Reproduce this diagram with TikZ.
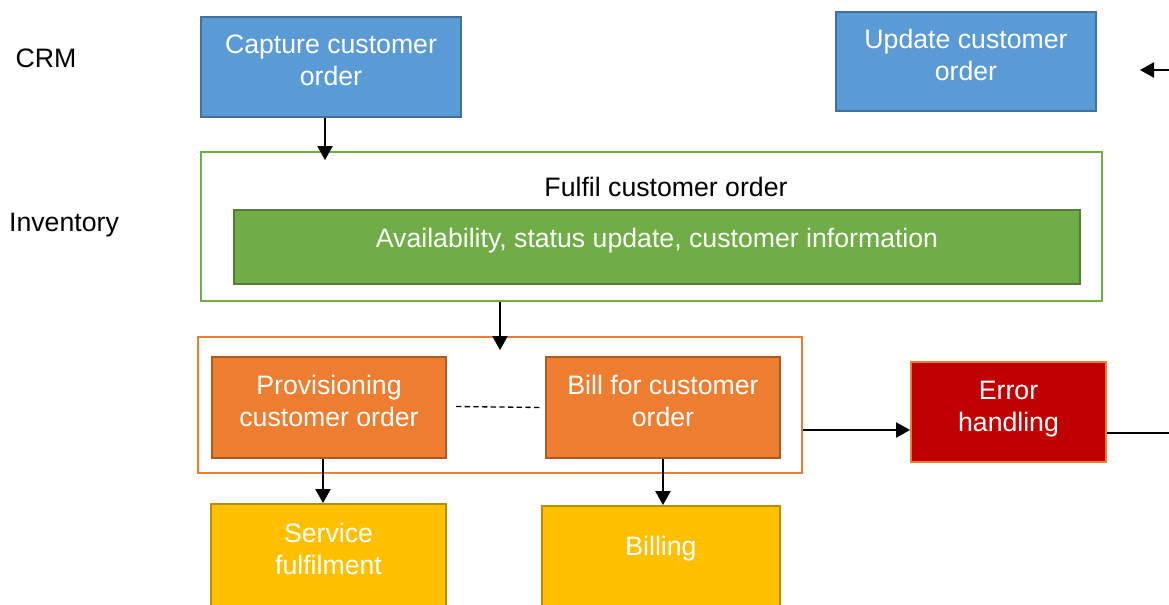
\documentclass[tikz,border=0pt]{standalone}
\usepackage{fontspec}
\setmainfont{Liberation Sans}
\usetikzlibrary{arrows.meta,calc}
\definecolor{crmfill}{HTML}{5B9BD5}
\definecolor{crmline}{HTML}{41719C}
\definecolor{invfill}{HTML}{70AD47}
\definecolor{invline}{HTML}{507E32}
\definecolor{ordfill}{HTML}{ED7D31}
\definecolor{ordline}{HTML}{AE5A21}
\definecolor{sysfill}{HTML}{FFC000}
\definecolor{sysline}{HTML}{BC8C00}
\definecolor{errfill}{HTML}{C00000}
\begin{document}
\begin{tikzpicture}[x=0.75pt,y=-0.75pt,
  font=\fontsize{20}{24}\selectfont,
  box/.style={draw, line width=1.5pt, inner sep=0pt},
  crmbox/.style={box, fill=crmfill, draw=crmline},
  invbox/.style={box, fill=invfill, draw=invline},
  ordbox/.style={box, fill=ordfill, draw=ordline},
  sysbox/.style={box, fill=sysfill, draw=sysline},
  errbox/.style={box, fill=errfill, draw=ordfill},
  frame/.style={draw, line width=1.5pt, inner sep=0pt},
  txt/.style={text=white, align=center, inner sep=0pt},
  lane/.style={text=black, inner sep=0pt},
  arr/.style={line width=1pt, -{Triangle[length=10.5pt,width=11.5pt]}},
  link/.style={line width=1pt},
]
\useasboundingbox (0,0) rectangle (1169,604);

% lane titles
\node[lane] (crm) at (46,58) {CRM};
\node[lane] (inv) at (64,225) {Inventory};

% CRM processes
\node[crmbox, minimum width=195pt, minimum height=75pt,
  label={[txt,yshift=5.25pt]center:{Capture customer\\order}}] (capture) at (331,67) {};
\node[crmbox, minimum width=195pt, minimum height=74.25pt,
  label={[txt,yshift=4.9pt]center:{Update customer\\order}}] (update) at (966,61.5) {};

% inventory stage
\node[frame, draw=invfill, minimum width=675.75pt, minimum height=111.75pt] (fulfil) at (651.5,226.5) {};
\node[lane] (fulfiltitle) at (666,187) {Fulfil customer order};
\node[invbox, minimum width=634.5pt, minimum height=55.5pt,
  label={[txt,yshift=5pt]center:{Availability, status update, customer information}}] (avail) at (657,247) {};

% order handling stage
\node[frame, draw=ordfill, minimum width=453pt, minimum height=102pt] (orders) at (500,405) {};
\node[ordbox, minimum width=175.5pt, minimum height=75.75pt,
  label={[txt,yshift=4.6pt]center:{Provisioning\\customer order}}] (prov) at (329,407.5) {};
\node[ordbox, minimum width=175.5pt, minimum height=75.75pt,
  label={[txt,yshift=4.6pt]center:{Bill for customer\\order}}] (bill) at (663,407.5) {};

% downstream systems
\node[sysbox, minimum width=176.25pt, minimum height=78pt,
  label={[txt,yshift=5.6pt]center:{Service\\fulfilment}}] (service) at (328.5,556) {};
\node[sysbox, minimum width=178.5pt, minimum height=78pt,
  label={[txt,yshift=7pt]center:{Billing}}] (billing) at (661,558) {};

% error path
\node[errbox, minimum width=146.25pt, minimum height=75pt,
  label={[txt,yshift=2.4pt]center:{Error\\handling}}] (error) at (1008.5,412) {};

% loose ends at the right margin
\coordinate (errout) at (1169,433);
\coordinate (updin) at (1169,70);
\coordinate (updtip) at (1140,70);

% connectors
\draw[arr] ($(capture.south)+(-6,0)$) -- ($(capture.south |- fulfil.north)+(-6,9)$);
\draw[arr] (fulfil.south -| orders.north) -- ($(orders.north)+(0,14)$);
\draw[arr] ($(prov.south)+(-6,0)$) -- ($(prov.south |- service.north)+(-6,0)$);
\draw[arr] (bill.south) -- (bill.south |- billing.north);
\draw[link, dashed, dash pattern=on 4pt off 2.5pt] ($(prov.east)+(9,-1)$) -- ($(bill.west)+(-3,0)$);
\draw[arr] ($(orders.east)+(0,25)$) -- ($(error.west)+(0,18)$);
\draw[link] (error.east |- errout) -- (errout);
\draw[arr] (updin) -- (updtip);
\end{tikzpicture}
\end{document}
